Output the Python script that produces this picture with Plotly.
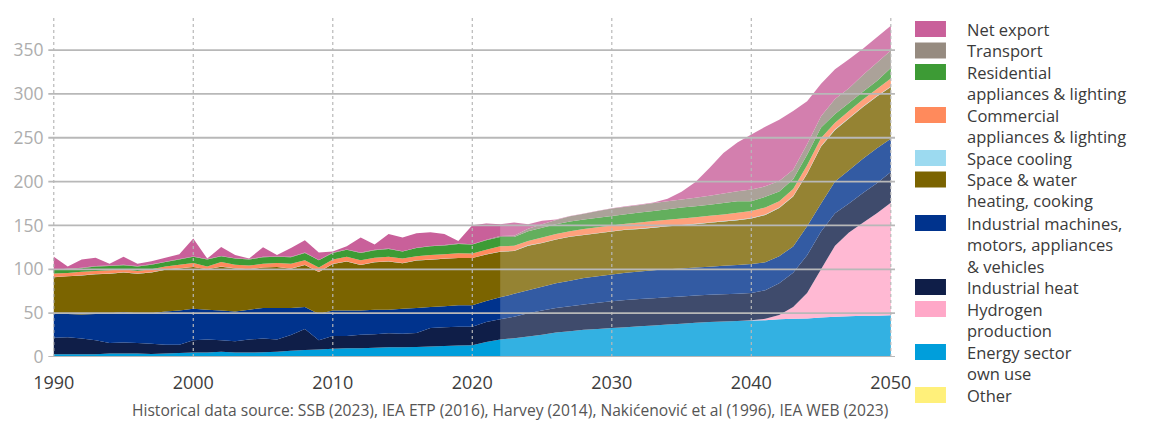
import plotly.graph_objects as go

years = list(range(1990, 2051))
projection_start = 2022

# values per series, 1990..2050 (TWh)
other = [0.5, 0.5, 0.5, 0.5, 0.5, 0.5, 0.5, 0.5, 0.5, 0.5,
         0.5, 0.5, 0.5, 0.5, 0.5, 0.5, 0.5, 0.5, 0.5, 0.5,
         0.5, 0.5, 0.5, 0.5, 0.5, 0.5, 0.5, 0.5, 0.5, 0.5,
         0.5, 0.5, 0.5,
         0.5, 0.5, 0.5, 0.5, 0.5, 0.5, 0.5,
         0.5, 0.5, 0.5, 0.5, 0.5, 0.5, 0.5, 0.5, 0.5, 0.5,
         0.5, 0.5, 0.5, 0.5, 0.5, 0.5, 0.5, 0.5, 0.5, 0.5, 0.5]
energy_sector = [2.5, 2.5, 2.5, 2.5, 3.5, 3.5, 3.5, 3, 3.5, 4,
                 4.5, 4.5, 5.5, 4.5, 4.5, 5, 5.5, 6.5, 7.5, 8,
                 9, 9.5, 9.5, 10, 10.5, 10.5, 11, 11.5, 12, 12.5,
                 13, 16.5, 19.5,
                 21, 23, 25, 27.5, 29, 30.5, 31.5,
                 32.5, 33.5, 34.5, 35.5, 36.5, 37.5, 38.5, 39.5, 40, 40.5,
                 41, 41.5, 42.5, 43, 43.5, 44.5, 45.5, 46, 46.5, 46.5, 47]
hydrogen = [0, 0, 0, 0, 0, 0, 0, 0, 0, 0,
            0, 0, 0, 0, 0, 0, 0, 0, 0, 0,
            0, 0, 0, 0, 0, 0, 0, 0, 0, 0,
            0, 0, 0,
            0, 0, 0, 0, 0, 0, 0,
            0, 0, 0, 0, 0, 0, 0, 0, 0, 0,
            0.5, 1.5, 5, 13.5, 29, 55, 81, 95.5, 106, 117, 128.5]
industrial_heat = [19, 19.5, 18, 16, 12, 12.5, 12, 11.5, 10, 9.5,
                   14, 15, 13, 13, 15, 15.5, 14, 18, 24, 10.5,
                   14.5, 14, 15.5, 15.5, 16, 15.5, 16, 21, 21.5, 21.5,
                   21, 23, 23,
                   24.5, 26.5, 27.5, 28, 28.5, 29, 30,
                   30.5, 31, 31, 31, 31, 31, 31, 31, 31, 31,
                   31, 32.5, 36, 39, 43, 43, 37, 33, 34, 34, 35]
industrial_machines = [28, 26.5, 27.5, 30, 34, 34.5, 34, 35, 38, 39,
                       36, 34, 34, 34, 34, 35, 36, 31, 25, 30,
                       29, 29, 27.5, 28, 27, 28.5, 28.5, 24, 24, 24.5,
                       24.5, 24, 25,
                       26, 26, 27, 28, 29, 30, 30,
                       30.5, 31, 31.5, 32, 32, 32, 32, 32, 32.5, 33,
                       33, 32, 31, 30, 33, 32, 36, 38, 39, 40, 38]
space_water_heating = [41, 43, 44.5, 45.5, 45, 45.4, 45, 46.4, 47.5, 48,
                       47.5, 46, 50, 49, 46, 46, 46.5, 44.6, 48, 48,
                       53, 56, 52, 54, 55, 52, 54, 54, 54, 53.8,
                       53.8, 53, 52,
                       49, 51, 50, 50, 50, 49, 49,
                       49, 49, 48.5, 48.5, 49, 49, 49.5, 50, 50.5, 51,
                       52, 54, 55, 57, 60, 65, 59, 59, 59, 59, 59]
space_cooling = [0.2, 0.2, 0.2, 0.2, 0.2, 0.2, 0.2, 0.2, 0.2, 0.2,
                 0.2, 0.2, 0.2, 0.2, 0.2, 0.2, 0.2, 0.2, 0.2, 0.2,
                 0.2, 0.2, 0.2, 0.2, 0.2, 0.2, 0.2, 0.2, 0.2, 0.2,
                 0.2, 0.2, 0.2,
                 0.3, 0.3, 0.3, 0.3, 0.4, 0.4, 0.4,
                 0.4, 0.4, 0.4, 0.5, 0.5, 0.5, 0.5, 0.5, 0.5, 0.5,
                 0.6, 0.6, 0.6, 0.6, 0.6, 0.6, 0.6, 0.6, 0.6, 0.6, 0.6]
commercial = [4, 3.7, 4, 3.5, 3.7, 3.6, 3, 3.6, 3.5, 4,
              4.5, 3, 5, 4, 4, 4, 4.5, 5.4, 5, 5,
              5, 5, 5, 5, 5, 5, 4.7, 5, 5, 5.2,
              4.9, 5, 6,
              5.5, 5, 6, 6, 6, 6.5, 6.5,
              6.5, 6.5, 7, 7, 7, 7.5, 7.5, 7.5, 7.5, 8,
              8, 8, 7, 8, 9, 9, 7.5, 8, 8, 8, 9]
residential = [4, 4.3, 4, 5, 4.8, 4.5, 5, 5, 5, 6,
               7, 8, 6.6, 7, 7, 7.5, 7, 7.5, 8.5, 8,
               7.5, 8, 8.5, 8.5, 9, 8, 9.3, 10, 10, 10.7,
               10.3, 11, 10.7,
               10, 11, 11, 11, 11, 11, 11,
               11, 11, 11.5, 11.5, 12, 12.5, 12.5, 12.5, 13, 13,
               11, 12, 11, 11, 12, 12, 10, 9, 9, 9, 12]
transport = [0.5, 0.5, 0.5, 0.5, 0.5, 0.5, 0.5, 0.5, 0.5, 0.5,
             0.5, 0.5, 0.5, 0.5, 0.5, 0.5, 0.5, 0.5, 0.5, 0.5,
             0.5, 0.5, 0.5, 0.5, 0.5, 0.5, 0.5, 0.5, 0.5, 0.5,
             0.5, 0.5, 1,
             1.5, 3, 4, 5, 6, 6.5, 7.5,
             8.5, 8.5, 8.5, 9, 9, 9, 9.5, 10.5, 11, 11.5,
             13.5, 12, 12, 11, 12, 13, 17, 17, 19, 21, 20]
net_export = [14.5, 2.5, 9.5, 9.5, 2, 9, 2.5, 3.5, 4.5, 5.5,
              20.5, 0.5, 10, 3.5, 0.5, 11, 1.5, 10, 14, 8.5,
              1, 3.5, 17, 6, 16.5, 15.5, 16.5, 15.5, 12.5, 2.8,
              21.5, 18.5, 13.5,
              15, 5, 4, 0.5, 0.3, 0.3, 0.3,
              0.3, 0.5, 0.5, 0.8, 3, 9, 18, 31.5, 46, 55.5,
              62.5, 68, 70, 67, 49, 37, 34, 33, 30, 29, 28]

x_ticks = [1990, 2000, 2010, 2020, 2030, 2040, 2050]
y_ticks = [0, 50, 100, 150, 200, 250, 300, 350]

# bottom to top: (name, values, colour, legend label lines)
series = [
    ("Other", other, "#fff07a", ["Other"]),
    ("Energy sector own use", energy_sector, "#009edb", ["Energy sector", "own use"]),
    ("Hydrogen production", hydrogen, "#ffa8c8", ["Hydrogen", "production"]),
    ("Industrial heat", industrial_heat, "#0f1e48", ["Industrial heat"]),
    ("Industrial machines, motors, appliances & vehicles", industrial_machines, "#00338d",
     ["Industrial machines,", "motors, appliances", "& vehicles"]),
    ("Space & water heating, cooking", space_water_heating, "#7b6400", ["Space & water", "heating, cooking"]),
    ("Space cooling", space_cooling, "#9cdaf0", ["Space cooling"]),
    ("Commercial appliances & lighting", commercial, "#ff8a5c", ["Commercial", "appliances & lighting"]),
    ("Residential appliances & lighting", residential, "#3d9b35", ["Residential", "appliances & lighting"]),
    ("Transport", transport, "#968b80", ["Transport"]),
    ("Net export", net_export, "#c9609a", ["Net export"]),
]

FONT = "'Open Sans', Lato, sans-serif"
W, H = 1150, 421
L, R, T, B = 49.5, 255, 15, 64
PW = W - L - R
PH = H - T - B


def px_x(px):
    return (px - L) / PW


def px_y(py):
    return (T + PH - py) / PH


fig = go.Figure()
for name, vals, color, _ in series:
    fig.add_trace(go.Scatter(
        x=years, y=vals, name=name, stackgroup="one", mode="none",
        fillcolor=color, showlegend=False,
        hovertemplate="%{x}: %{y} TWh<extra>" + name + "</extra>",
    ))

shapes = []
# lighter shading for the projection period
shapes.append(dict(type="rect", xref="x", yref="paper", x0=projection_start, x1=years[-1],
                   y0=0, y1=1, fillcolor="rgba(255,255,255,0.2)", line=dict(width=0), layer="above"))
# vertical dotted grid lines
for xv in x_ticks:
    shapes.append(dict(type="line", xref="x", yref="paper", x0=xv, x1=xv, y0=0, y1=1,
                       line=dict(color="#b8b8b8", width=1.2, dash="dot"), layer="above"))
# horizontal grid lines
for yv in y_ticks:
    shapes.append(dict(type="line", xref="paper", yref="y", x0=-0.002, x1=1, y0=yv, y1=yv,
                       line=dict(color="#b8b8b8", width=1.8), layer="above"))

annotations = []
# custom legend (top to bottom = reverse of stack order)
legend_first_line_y = [29, 50.5, 72, 115, 158, 179.5, 223, 287, 309, 352, 395]
line_pitch = 21.5
LEG_SIZE = 16.5
for (name, vals, color, lines), cy in zip(reversed(series), legend_first_line_y):
    shapes.append(dict(type="rect", xref="paper", yref="paper",
                       x0=px_x(915), x1=px_x(946), y0=px_y(cy + 8), y1=px_y(cy - 8),
                       fillcolor=color, line=dict(width=0)))
    centre = cy + (len(lines) - 1) * line_pitch / 2
    annotations.append(dict(text="<br>".join(lines), xref="paper", yref="paper", x=px_x(966),
                            y=px_y(centre), xanchor="left", yanchor="middle", align="left",
                            showarrow=False, borderpad=0,
                            font=dict(family=FONT, size=LEG_SIZE, color="#3a3a3a")))

annotations.append(dict(
    text="Historical data source: SSB (2023), IEA ETP (2016), Harvey (2014), Nakićenović et al (1996), IEA WEB (2023)",
    xref="paper", yref="paper", x=px_x(510), y=px_y(410), xanchor="center", yanchor="middle",
    showarrow=False, font=dict(family=FONT, size=15.6, color="#555555")))

fig.update_layout(
    width=W, height=H,
    margin=dict(l=L, r=R, t=T, b=B, pad=0),
    paper_bgcolor="white", plot_bgcolor="white",
    font=dict(family=FONT),
    showlegend=False,
    shapes=shapes,
    annotations=annotations,
    xaxis=dict(range=[1989.73, 2050.3], tickvals=x_ticks, showgrid=False, zeroline=False,
               showline=False, ticks="outside", ticklen=9, tickcolor="rgba(0,0,0,0)",
               tickfont=dict(family=FONT, size=18, color="#3c3c3c")),
    yaxis=dict(range=[0, 390], tickvals=y_ticks, showgrid=False, zeroline=False,
               showline=False, ticks="outside", ticklen=2, tickcolor="rgba(0,0,0,0)",
               tickfont=dict(family=FONT, size=17.5, color="#adadad")),
)

fig.write_html("out.html", config={"displayModeBar": False},
               post_script="document.body.style.margin='0px';")
